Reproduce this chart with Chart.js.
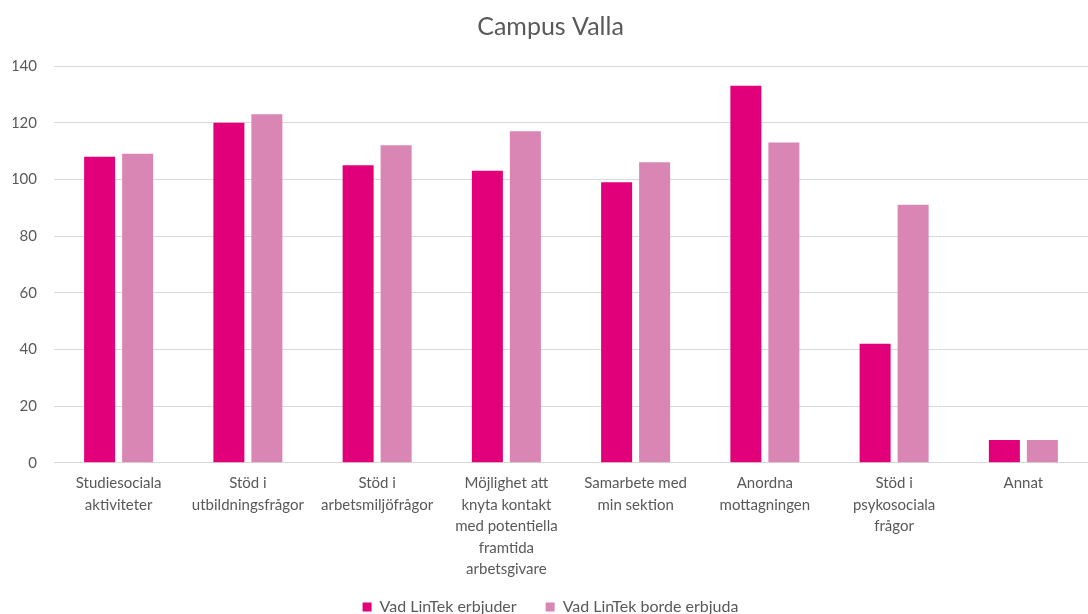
<!DOCTYPE html>
<html>
<head>
<meta charset="utf-8">
<script src="https://cdn.jsdelivr.net/npm/chart.js@4/dist/chart.umd.min.js"></script>
<style>
    html, body { margin: 0; padding: 0; background: #fff; overflow: hidden; }
    #wrap { position: relative; width: 1088px; height: 625px; }
</style>
</head>
<body>
<div id="wrap"><canvas id="campusChart"></canvas></div>
<script>
// Campus Valla — vad LinTek erbjuder / borde erbjuda
const categories = [
    ['Studiesociala', 'aktiviteter'],
    ['Stöd i', 'utbildningsfrågor'],
    ['Stöd i', 'arbetsmiljöfrågor'],
    ['Möjlighet att', 'knyta kontakt', 'med potentiella', 'framtida', 'arbetsgivare'],
    ['Samarbete med', 'min sektion'],
    ['Anordna', 'mottagningen'],
    ['Stöd i', 'psykosociala', 'frågor'],
    ['Annat']
];
const erbjuder = [108, 120, 105, 103, 99, 133, 42, 8];
const bordeErbjuda = [109, 123, 112, 117, 106, 113, 91, 8];
const seriesNames = ['Vad LinTek erbjuder', 'Vad LinTek borde erbjuda'];

const textColor = '#595959';
const font = 'Lato, "Open Sans", sans-serif';

new Chart(document.getElementById('campusChart'), {
    type: 'bar',
    data: {
        labels: categories,
        datasets: [{
            label: seriesNames[0],
            data: erbjuder,
            backgroundColor: '#E2007A',
            categoryPercentage: 0.588,
            barPercentage: 0.816
        }, {
            label: seriesNames[1],
            data: bordeErbjuda,
            backgroundColor: '#D986B5',
            categoryPercentage: 0.588,
            barPercentage: 0.816
        }]
    },
    options: {
        responsive: true,
        maintainAspectRatio: false,
        animation: false,
        layout: { padding: { left: 13, right: 0, top: 8, bottom: 0 } },
        plugins: {
            title: {
                display: true,
                text: 'Campus Valla',
                color: textColor,
                font: { family: font, size: 25, weight: 'normal' },
                padding: { top: 4, bottom: 24 }
            },
            legend: {
                position: 'bottom',
                labels: {
                    color: textColor,
                    font: { family: font, size: 16 },
                    boxWidth: 9,
                    boxHeight: 9,
                    padding: 9,
                    // a bit of extra room between the two entries
                    generateLabels(chart) {
                        const items = Chart.defaults.plugins.legend.labels.generateLabels(chart);
                        items.forEach((it, i) => { if (i < items.length - 1) it.text += '\u2003\u2002'; });
                        return items;
                    }
                }
            },
            tooltip: { enabled: false }
        },
        scales: {
            x: {
                grid: { display: false, drawTicks: false },
                border: { display: true, color: '#d9d9d9' },
                ticks: {
                    color: textColor,
                    font: { family: font, size: 15, lineHeight: 1.43 },
                    maxRotation: 0,
                    autoSkip: false,
                    padding: 10
                }
            },
            y: {
                min: 0,
                max: 140,
                grid: { color: '#d9d9d9', drawTicks: false },
                border: { display: false },
                ticks: {
                    stepSize: 20,
                    color: textColor,
                    font: { family: font, size: 15 },
                    padding: 17
                },
                afterFit(scale) { scale.width = 41; }
            }
        }
    }
});
</script>
</body>
</html>
